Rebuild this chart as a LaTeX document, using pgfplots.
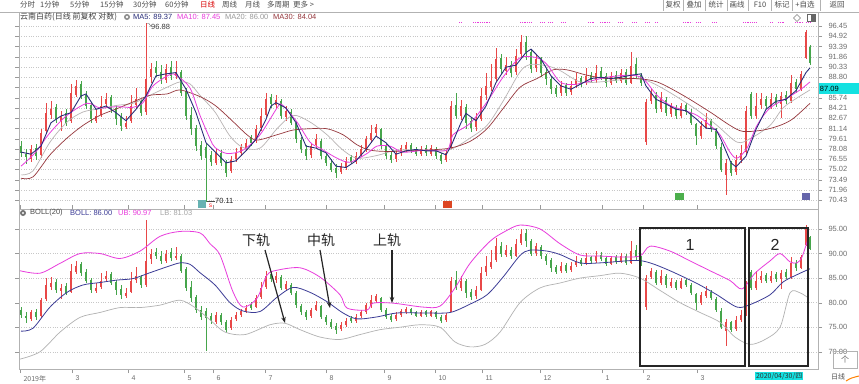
\documentclass[border=0pt]{standalone}
\usepackage{fontspec}
\setmainfont{Liberation Sans}
\newfontfamily\cjk{Noto Sans CJK SC}
\usepackage{pgfplots}
\pgfplotsset{compat=1.18}
\usepackage{pgfplotstable}
\usetikzlibrary{arrows.meta}

\definecolor{upred}{RGB}{232,72,72}
\definecolor{dngreen}{RGB}{70,165,75}
\definecolor{maA}{RGB}{40,45,120}
\definecolor{maB}{RGB}{232,60,220}
\definecolor{maC}{RGB}{185,180,180}
\definecolor{maD}{RGB}{150,55,60}
\definecolor{bollmid}{RGB}{60,60,150}
\definecolor{txtgray}{RGB}{110,110,110}
\definecolor{cyanlab}{RGB}{20,225,225}

% up candles: x open high low close
\pgfplotstableread{
x o h l c
31 76.6 78.6 76.2 78.0
41 77.2 81.0 76.8 80.5
46 80.8 85.0 80.3 83.5
51 83.2 85.2 82.6 84.0
61 82.3 83.8 80.8 83.0
71 82.2 87.8 82.0 86.5
76 86.2 88.4 85.8 87.5
96 82.3 84.0 81.9 83.0
101 83.2 86.0 82.8 84.5
106 84.8 86.4 84.2 85.5
126 81.4 83.0 81.0 82.0
131 82.2 86.2 82.0 84.5
136 84.6 87.2 84.0 85.5
146 83.6 96.88 83.2 88.5
151 88.8 91.0 87.9 90.0
166 88.4 90.8 88.0 90.0
176 89.0 91.3 88.6 89.5
216 76.0 78.1 75.7 77.5
231 74.8 77.0 74.5 76.5
236 76.6 78.2 76.2 77.5
241 77.4 78.8 77.0 78.3
246 78.2 79.6 77.8 79.0
256 79.2 81.6 78.9 81.0
261 81.2 84.2 80.8 83.0
266 83.2 86.4 82.8 85.5
276 84.6 86.2 84.0 85.4
286 82.8 84.5 82.3 83.8
311 77.2 79.0 76.8 78.5
316 78.6 80.3 78.2 79.5
341 74.6 76.0 74.3 75.5
346 75.4 76.9 75.0 76.3
356 76.2 77.6 75.8 77.0
361 77.2 78.6 76.8 78.0
366 78.0 80.0 77.6 79.5
371 79.4 81.6 79.0 80.5
376 80.4 81.8 80.0 81.3
396 76.6 78.0 76.2 77.5
401 77.4 78.7 77.0 78.2
406 78.0 79.1 77.6 78.7
421 77.3 78.5 77.0 78.0
431 77.3 78.6 77.0 78.2
446 76.4 77.9 76.1 77.5
451 78.2 85.3 78.0 84.5
461 83.0 85.4 82.4 84.5
476 81.3 83.4 80.8 82.5
481 82.6 87.2 82.3 86.0
486 86.2 89.5 85.4 87.5
491 87.3 90.8 86.8 88.3
496 88.6 93.2 88.2 91.5
506 89.8 91.8 89.2 90.7
516 89.6 93.0 89.2 92.0
521 92.2 95.1 91.8 94.0
536 90.2 92.2 89.6 91.5
561 86.4 88.2 86.0 87.5
571 86.6 88.3 86.2 87.5
576 87.6 89.4 87.2 88.5
586 87.9 90.2 87.6 89.0
596 88.4 90.6 88.0 89.5
611 87.9 89.6 87.6 89.0
621 88.3 90.1 88.0 89.5
631 88.0 92.6 87.8 90.5
646 79.1 85.6 78.6 85.1
651 85.2 87.0 84.8 86.4
661 84.0 86.6 83.6 85.5
671 83.3 85.0 82.9 84.3
681 83.0 85.0 82.7 84.5
701 80.0 82.2 79.6 81.5
706 81.4 83.4 81.0 82.4
726 74.2 76.6 71.2 76.0
736 74.6 77.2 74.2 76.5
741 76.5 78.6 76.0 77.5
746 77.6 84.5 77.2 83.8
756 83.0 86.5 82.6 84.5
761 84.6 86.4 84.0 85.5
771 84.4 86.4 84.0 85.5
781 84.8 86.6 82.7 86.0
791 85.2 89.2 84.9 88.0
801 87.0 89.8 86.8 89.3
806 91.7 95.9 91.5 95.5
}\uptab

% down candles: x open high low close
\pgfplotstableread{
x o h l c
21 78.5 79.2 76.8 77.5
26 77.3 78.0 75.9 76.8
36 78.2 78.8 76.4 77.0
56 84.3 84.8 81.9 82.5
66 83.4 84.0 81.5 82.0
81 87.8 88.3 85.5 86.0
86 86.2 86.8 84.0 84.5
91 84.6 85.0 82.0 82.5
111 85.8 86.2 83.5 84.0
116 84.2 84.6 81.6 82.5
121 82.8 83.5 80.8 81.5
141 85.2 85.6 83.0 83.5
156 90.3 91.2 88.8 89.5
161 89.6 90.6 87.8 88.5
171 90.3 91.2 88.4 89.0
181 89.6 89.9 86.0 86.5
186 86.8 87.2 82.4 83.0
191 83.2 84.4 80.2 81.0
196 81.2 81.6 77.8 78.5
201 78.6 79.3 76.4 77.0
206 78.4 79.0 70.11 76.8
211 77.2 77.8 75.6 76.2
221 77.4 77.9 75.5 76.0
226 76.0 76.4 73.9 74.5
251 79.8 80.2 78.5 79.0
271 85.8 86.3 84.2 84.8
281 85.2 85.6 82.5 83.0
291 83.6 84.0 81.6 82.0
296 82.0 82.3 79.0 79.5
301 79.4 79.8 77.4 78.0
306 78.0 78.6 76.5 77.0
321 79.3 79.6 76.6 77.0
326 77.0 77.4 75.5 76.0
331 76.0 76.6 74.6 75.0
336 75.3 75.8 73.7 74.5
351 76.8 77.2 75.8 76.2
381 81.0 81.2 78.0 78.5
386 78.6 79.0 76.6 77.0
391 77.2 77.6 76.0 76.4
411 78.7 79.0 77.5 77.9
416 78.0 78.4 77.0 77.3
426 78.2 78.6 77.0 77.4
436 78.0 78.3 76.6 77.0
441 77.1 77.4 75.9 76.3
456 84.6 86.5 82.5 83.0
466 84.4 84.8 81.0 82.0
471 82.2 82.8 80.6 81.2
501 91.6 92.3 89.3 90.0
511 90.7 91.3 88.9 89.5
526 94.1 95.0 91.4 92.5
531 92.6 93.0 89.4 90.0
541 91.4 91.8 88.8 89.5
546 89.6 90.0 87.6 88.5
551 88.6 89.0 86.3 87.0
556 87.2 87.6 85.8 86.3
566 87.6 88.0 86.0 86.5
581 88.7 89.0 87.4 87.9
591 89.2 89.6 87.9 88.4
601 89.8 90.3 88.4 88.9
606 89.0 89.4 87.4 87.9
616 89.2 89.7 87.9 88.3
626 89.6 90.0 87.6 88.0
636 90.8 91.7 88.6 89.2
641 89.2 89.5 87.5 88.0
656 86.2 86.6 83.5 84.0
666 85.4 85.8 83.0 83.5
676 84.2 84.6 82.6 83.0
686 84.6 84.9 83.2 83.6
691 83.6 84.0 81.6 82.0
696 81.8 82.0 78.6 80.0
711 82.2 82.6 80.6 81.0
716 80.8 81.2 78.0 78.5
721 78.4 78.9 74.6 75.0
731 76.0 76.3 74.0 74.5
751 86.3 86.6 82.5 83.0
766 85.6 86.0 84.0 84.5
776 85.8 86.3 84.3 84.8
786 86.2 86.8 84.8 85.3
796 88.1 88.6 86.4 87.0
810 93.3 93.6 90.7 90.9
}\dntab

% MA20 (= BOLL mid)
\pgfplotstableread{
x y
21 74.2
33 74.8
50 79.1
67 82.1
83 83.6
100 84.1
117 84.6
133 84.9
150 86.1
167 87.3
180 88.1
190 87.8
200 86.1
215 83.6
230 80.0
243 78.3
260 78.2
277 81.1
293 83.1
310 82.1
327 80.2
343 77.9
357 76.7
377 77.1
397 77.9
425 77.9
450 78.0
470 79.7
487 81.6
503 85.2
520 89.6
530 90.7
547 90.5
560 89.8
580 88.1
600 88.1
635 88.6
650 88.1
670 86.5
697 83.9
717 81.6
737 79.1
750 79.6
770 81.6
783 84.2
797 85.7
810 86.9
}\matwenty

\pgfplotsset{
  wick/.style={draw=none, mark=none, forget plot,
    /pgfplots/error bars/y dir=both, /pgfplots/error bars/y explicit,
    /pgfplots/error bars/error mark=none,
    /pgfplots/error bars/error bar style={draw=#1, line width=0.6pt}},
  body/.style={draw=none, mark=none, forget plot,
    /pgfplots/error bars/y dir=both, /pgfplots/error bars/y explicit,
    /pgfplots/error bars/error mark=none,
    /pgfplots/error bars/error bar style={draw=#1, line width=2.6pt}},
  panel/.style={scale only axis, width=799pt, xmin=19, xmax=818,
    axis line style={draw=black!30},
    ymajorgrids, grid style={dotted, black!22},
    yticklabel pos=right, tick align=outside,
    ticklabel style={font=\fontsize{7.5}{8}\selectfont, text=txtgray},
    yticklabel style={xshift=3pt},
    /pgf/number format/assume math mode=true,
    tick style={draw=black!40}, major tick length=4pt, minor tick length=2pt},
}

\newcommand{\candles}{%
  \addplot[wick=upred] table[x=x, y expr={(\thisrow{h}+\thisrow{l})/2}, y error expr={(\thisrow{h}-\thisrow{l})/2}] {\uptab};
  \addplot[wick=dngreen] table[x=x, y expr={(\thisrow{h}+\thisrow{l})/2}, y error expr={(\thisrow{h}-\thisrow{l})/2}] {\dntab};
  \addplot[body=upred] table[x=x, y expr={(\thisrow{o}+\thisrow{c})/2}, y error expr={abs(\thisrow{c}-\thisrow{o})/2}] {\uptab};
  \addplot[body=dngreen] table[x=x, y expr={(\thisrow{o}+\thisrow{c})/2}, y error expr={abs(\thisrow{c}-\thisrow{o})/2}] {\dntab};
}

\begin{document}
\begin{tikzpicture}[x=1pt,y=1pt]
\useasboundingbox (0,0) rectangle (859,-383);
\fill[white] (0,0) rectangle (859,-383);

% ---------------- upper panel ----------------
\begin{axis}[panel, at={(19pt,-12pt)}, anchor=north west, height=197pt,
  ymin=69.1, ymax=98.55, xtick=\empty,
  ytick={70.43,71.96,73.49,75.02,76.55,78.08,79.61,81.14,82.67,84.21,85.74,87.27,88.80,90.33,91.86,93.39,94.92,96.45},
  yticklabels={70.43,71.96,73.49,75.02,76.55,78.08,79.61,81.14,82.67,84.21,85.74,,88.80,90.33,91.86,93.39,94.92,96.45}]
\candles
\addplot[maC, line width=0.7pt, smooth, tension=0.5, mark=none] table[x=x,y=y] {\matwenty};
\addplot[maD, line width=0.7pt, smooth, tension=0.5, mark=none] coordinates {(21,73.7)(33,73.9)(50,77.2)(67,79.7)(83,81.6)(100,83.1)(117,84.1)(133,85.1)(150,86.1)(167,86.3)(180,86.9)(200,85.9)(215,84.6)(230,82.6)(247,80.2)(257,79.4)(277,80.2)(293,80.9)(310,81.1)(327,81.1)(343,80.2)(357,78.7)(370,77.9)(390,77.7)(425,77.9)(450,78.2)(470,79.2)(487,81.1)(503,84.1)(520,87.3)(537,88.6)(553,89.9)(567,89.9)(587,89.1)(607,88.6)(635,88.6)(657,88.1)(683,86.1)(710,83.6)(730,81.6)(743,80.7)(763,80.9)(780,81.6)(793,82.6)(810,84.9)};
\addplot[maB, line width=0.8pt, smooth, tension=0.5, mark=none] coordinates {(21,75.5)(35,77.5)(50,80.5)(67,83.1)(87,84.9)(100,84.2)(117,84.4)(133,84.3)(143,85.0)(153,87.5)(170,89.2)(177,89.0)(190,87.2)(200,83.1)(210,79.6)(215,78.3)(227,77.4)(243,77.9)(260,80.2)(277,84.2)(282,84.7)(297,82.1)(310,79.1)(320,78.2)(337,76.7)(350,76.1)(367,77.4)(377,78.5)(390,78.5)(403,77.6)(425,77.9)(447,77.9)(453,80.2)(470,81.9)(487,85.1)(503,88.8)(520,91.7)(537,91.7)(547,90.7)(560,88.1)(573,87.7)(587,88.1)(607,88.8)(630,89.1)(643,88.6)(657,86.1)(670,84.6)(683,83.9)(697,83.1)(710,81.6)(720,80.2)(730,77.6)(737,76.7)(747,78.2)(757,81.6)(770,84.2)(787,85.7)(800,86.9)(810,88.1)};
\addplot[maA, line width=0.9pt, mark=none] coordinates {(21,77.6)(31,77.3)(41,78.5)(51,82.0)(61,83.0)(71,83.5)(81,86.0)(86,86.3)(96,84.0)(106,84.5)(116,83.5)(126,82.3)(136,84.0)(146,86.0)(156,89.0)(166,89.3)(176,89.5)(186,87.0)(196,83.5)(206,79.0)(216,77.5)(226,76.0)(236,76.3)(246,77.8)(256,79.5)(266,82.5)(271,84.5)(276,85.0)(286,84.2)(296,82.0)(306,78.5)(316,78.2)(326,77.5)(336,75.5)(346,75.3)(356,76.3)(366,78.0)(376,80.0)(386,79.0)(396,77.3)(406,77.8)(416,78.0)(426,77.8)(436,77.8)(446,77.2)(451,78.5)(461,82.0)(466,83.4)(476,82.3)(486,84.5)(496,88.0)(506,90.3)(516,90.6)(526,92.5)(531,93.0)(541,91.5)(551,89.0)(561,87.5)(571,87.0)(581,87.8)(591,88.6)(601,88.8)(611,88.6)(621,88.8)(631,89.1)(641,89.3)(646,87.5)(656,85.5)(666,84.8)(676,84.0)(686,83.8)(696,82.6)(706,81.2)(716,81.0)(721,79.5)(731,76.0)(736,75.4)(746,77.0)(756,81.0)(766,84.0)(776,85.2)(786,85.5)(796,86.8)(806,89.5)(810,90.2)};
\end{axis}

% ---------------- lower panel ----------------
\begin{axis}[panel, at={(19pt,-209pt)}, anchor=north west, height=160pt,
  ymin=66.49, ymax=99.07,
  ytick={70,75,80,85,90,95}, yticklabels={70.00,75.00,80.00,85.00,90.00,95.00},
  xtick={20,72,128,184,213,265,326,384,435,482,540,602,643,697},
  xticklabels={{\cjk 2019年},3,4,5,6,7,8,9,10,11,12,1,2,3},
  xticklabel style={anchor=north west, xshift=0pt, yshift=1pt, font=\fontsize{7}{8}\selectfont},
  minor x tick num=3]
\candles
\addplot[black!30, line width=0.7pt, smooth, tension=0.5, mark=none] coordinates {(20,68.5)(40,70.0)(60,74.0)(80,77.0)(100,78.0)(120,79.0)(140,79.0)(160,79.5)(180,80.5)(195,79.0)(210,76.5)(225,74.0)(245,73.5)(270,75.5)(285,75.8)(300,74.5)(320,73.0)(340,72.5)(360,73.5)(380,74.5)(400,75.0)(420,75.5)(440,75.0)(455,72.0)(470,71.0)(485,71.5)(500,74.0)(520,80.0)(540,83.0)(560,84.0)(580,85.0)(600,85.5)(620,86.0)(640,85.0)(660,82.5)(680,80.0)(700,78.0)(720,76.0)(735,73.0)(750,71.5)(765,72.5)(780,75.0)(790,82.0)(800,82.0)(808,81.0)};
\addplot[bollmid, line width=0.8pt, smooth, tension=0.5, mark=none] table[x=x,y=y] {\matwenty};
\addplot[maB, line width=0.8pt, smooth, tension=0.5, mark=none] coordinates {(20,86.5)(40,86.0)(60,88.0)(80,90.0)(100,90.0)(120,89.0)(140,90.5)(160,93.5)(180,94.5)(200,94.2)(210,92.0)(220,89.7)(233,82.2)(243,79.1)(257,80.9)(267,85.6)(277,86.6)(300,87.1)(320,85.2)(340,81.6)(347,78.9)(367,78.5)(373,79.9)(393,79.9)(423,79.1)(440,79.3)(455,83.0)(470,88.0)(490,92.5)(505,94.5)(520,95.8)(540,95.0)(560,92.0)(580,89.7)(600,89.5)(620,89.3)(640,89.5)(650,91.5)(670,90.5)(690,88.5)(710,86.5)(730,84.5)(742,82.8)(755,86.0)(770,88.5)(780,90.0)(790,88.3)(797,88.1)(802,89.3)(808,93.0)};
\end{axis}

% ---------------- toolbar ----------------
\draw[black!30] (0,-12) -- (859,-12);
\foreach \x/\t in {20/分时, 40/1分钟, 70/5分钟, 100/15分钟, 133/30分钟, 165/60分钟, 222/周线, 245/月线, 267/多周期, 293/更多 >}
  \node[anchor=west, inner sep=0, font=\cjk\fontsize{7.5}{8}\selectfont, text=black!70] at (\x,-5) {\t};
\node[anchor=west, inner sep=0, font=\cjk\fontsize{7.5}{8}\selectfont, text=red!85!black] at (200,-5) {日线};
\foreach \x/\t in {673/复权, 694/叠加, 716/统计, 737/画线, 760/F10, 782/标记, 805/+自选, 837/返回}
  \node[inner sep=0, font=\cjk\fontsize{7.5}{8}\selectfont, text=black!70] at (\x,-5) {\t};
\foreach \x in {663,683,705,727,748,771,792,820}
  \draw[black!30] (\x,0) -- (\x,-11);

% ---------------- upper legend ----------------
\node[anchor=west, inner sep=0, font=\cjk\fontsize{8}{9}\selectfont, text=black!75] at (20,-17) {云南白药(日线 前复权 对数)};
\fill[black!45] (127,-17) circle (3);
\fill[white] (127,-17) circle (1.3);
\node[anchor=west, inner sep=0, font=\fontsize{7.5}{8}\selectfont, text=maA] at (133,-17) {MA5: 89.37};
\node[anchor=west, inner sep=0, font=\fontsize{7.5}{8}\selectfont, text=maB] at (177,-17) {MA10: 87.45};
\node[anchor=west, inner sep=0, font=\fontsize{7.5}{8}\selectfont, text=black!40] at (225,-17) {MA20: 86.00};
\node[anchor=west, inner sep=0, font=\fontsize{7.5}{8}\selectfont, text=maD] at (273,-17) {MA30: 84.04};
\draw[black!50] (797,-14.5) -- (800.5,-18) -- (797,-21.5) -- (793.5,-18) -- cycle;
\draw[black!60] (807,-14.5) rectangle (815,-21.5);
\fill[black!60] (811,-14.5) rectangle (815,-21.5);

% price labels
\draw[black!70] (146.5,-23.5) -- (149,-23.5) -- (151,-26.5);
\node[anchor=west, inner sep=0, font=\fontsize{7.5}{8}\selectfont, text=black!75] at (151,-27) {96.88};
\draw[black!70] (207,-201) -- (215,-201);
\node[anchor=west, inner sep=0, font=\fontsize{7.5}{8}\selectfont, text=black!85] at (215,-201) {70.11};
\node[anchor=west, fill=cyanlab, inner sep=0, minimum height=11pt, text width=40pt, font=\fontsize{7.5}{8}\selectfont] at (818.5,-88.6) {\,87.09};

% small marker squares
\fill[teal!60] (198,-200) rectangle (206,-208);
\node[inner sep=0, font=\fontsize{5}{5}\selectfont, text=red] at (210.5,-206) {S};
\fill[red!45!brown] (443,-201) rectangle (452,-208);
\fill[green!55!black!70] (675,-193) rectangle (684,-200);
\fill[blue!45!black!60] (802,-193) rectangle (810,-200);
\foreach \a/\b in {459/461,473/490,520/532,540/545,548/552,561/566,588/594,600/610,618/622,632/636,645/650,655/658,683/692,696/700,712/717,743/757,770/772,778/785,795/803,806/810}
  \draw[maB, densely dotted, line width=0.8pt] (\a,-22) -- (\b,-22);

% ---------------- lower legend ----------------
\fill[black!55] (23,-213) circle (3);
\fill[white] (23,-213) circle (1.2);
\node[anchor=west, inner sep=0, font=\fontsize{7.5}{8}\selectfont, text=black!70] at (30,-213) {BOLL(20)};
\node[anchor=west, inner sep=0, font=\fontsize{7.5}{8}\selectfont, text=bollmid] at (70,-213) {BOLL: 86.00};
\node[anchor=west, inner sep=0, font=\fontsize{7.5}{8}\selectfont, text=maB] at (118,-213) {UB: 90.97};
\node[anchor=west, inner sep=0, font=\fontsize{7.5}{8}\selectfont, text=black!35] at (160,-213) {LB: 81.03};

% annotations
\node[font=\cjk\fontsize{14}{15}\selectfont, text=black!85] at (256,-240) {下轨};
\node[font=\cjk\fontsize{14}{15}\selectfont, text=black!85] at (321,-240) {中轨};
\node[font=\cjk\fontsize{14}{15}\selectfont, text=black!85] at (387,-240) {上轨};
\draw[line width=1.2pt, black!85, -{Stealth[length=6pt,width=4.5pt]}] (265,-250) -- (285,-323);
\draw[line width=1.2pt, black!85, -{Stealth[length=6pt,width=4.5pt]}] (320,-250) -- (330,-308);
\draw[line width=1.2pt, black!85, -{Stealth[length=6pt,width=4.5pt]}] (392,-250) -- (392,-303);

% boxes
\draw[line width=1.3pt, black!85] (640,-228) rectangle (745,-366);
\draw[line width=1.3pt, black!85] (749,-228) rectangle (808,-366);
\node[font=\fontsize{16}{17}\selectfont, text=black!85] at (690,-245) {1};
\node[font=\fontsize{16}{17}\selectfont, text=black!85] at (775,-245) {2};

% bottom right
\node[anchor=west, fill=cyanlab, inner sep=0.8pt, font=\cjk\fontsize{7}{8}\selectfont, text=black!80] at (755,-376) {2020/04/30/四};
\draw[black!30] (833,-351) rectangle (857,-368);
\node[font=\cjk\fontsize{8}{9}\selectfont, text=black!60] at (845,-359.5) {个};
\node[font=\cjk\fontsize{7}{8}\selectfont, text=black!70] at (838,-377) {日线};
\draw[orange, line width=1pt] (846,-381) .. controls (851,-378) .. (859,-376);
\end{tikzpicture}
\end{document}
